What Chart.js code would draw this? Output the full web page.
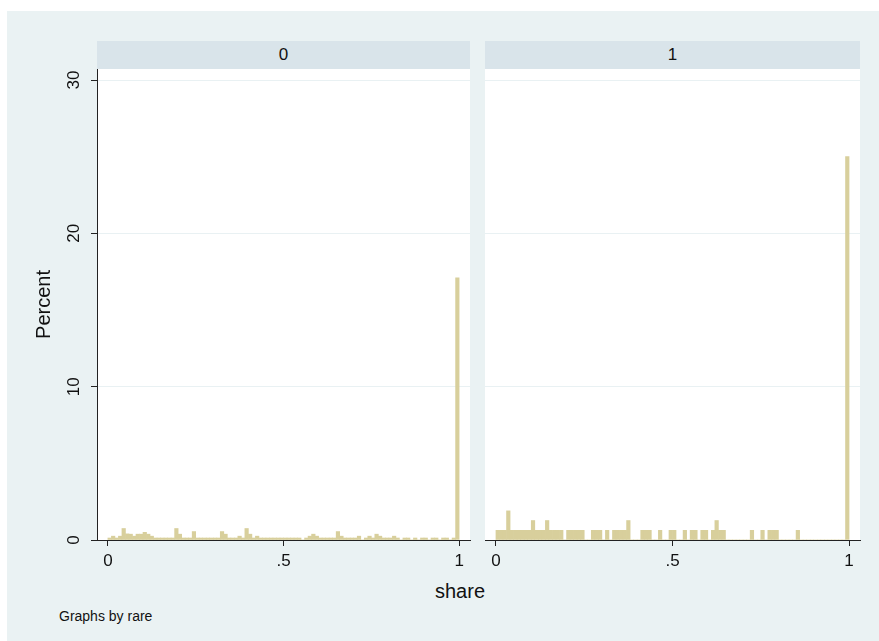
<!DOCTYPE html>
<html>
<head>
<meta charset="utf-8">
<script src="https://cdn.jsdelivr.net/npm/chart.js@4.4.0/dist/chart.umd.min.js"></script>
<style>
  body { margin: 0; background: #fff; font-family: "Liberation Sans", Arial, sans-serif; }
  #bg { position: absolute; left: 7px; top: 11px; width: 872px; height: 630px; background: #eaf2f3; }
  .strip { position: absolute; top: 41px; height: 28px; background: #d9e4ea; color: #111;
           font-size: 17px; text-align: center; line-height: 28px; }
  .cv { position: absolute; }
  #xlab { position: absolute; left: 380px; width: 160px; top: 580px; text-align: center; font-size: 20px; color: #111; }
  #note { position: absolute; left: 59px; top: 608px; font-size: 14px; color: #111; }
</style>
</head>
<body>
<div id="bg"></div>
<div class="strip" style="left:97px;width:373px;">0</div>
<div class="strip" style="left:485px;width:375px;">1</div>
<div class="cv" style="left:0px;top:60px;width:475px;height:520px;"><canvas id="chart0"></canvas></div>
<div class="cv" style="left:480px;top:60px;width:385px;height:520px;"><canvas id="chart1"></canvas></div>
<div id="xlab">share</div>
<div id="note">Graphs by rare</div>
<script>
// histogram of share by rare, bin width .01 starting at 0 (percent per bin)
var binWidth = 0.01;
var groups = ["0", "1"];
var xTicks = [0, 0.5, 1];
var yTicks = [0, 10, 20, 30];

var pct0 = [
  0.13, 0.25, 0.13, 0.25, 0.75, 0.4, 0.38, 0.25, 0.38, 0.38,
  0.5, 0.38, 0.25, 0.13, 0.13, 0.13, 0.13, 0.13, 0.13, 0.75,
  0.38, 0.13, 0.13, 0.13, 0.55, 0.13, 0.13, 0.13, 0.13, 0.13,
  0.13, 0.13, 0.55, 0.38, 0.13, 0.13, 0.13, 0.25, 0.13, 0.75,
  0.38, 0.13, 0.25, 0.13, 0.13, 0.13, 0.13, 0.13, 0.13, 0.13,
  0.13, 0.13, 0.13, 0.13, 0.13, 0, 0.13, 0.25, 0.38, 0.25,
  0.13, 0.13, 0.13, 0.13, 0.13, 0.55, 0.25, 0.13, 0.13, 0.13,
  0.13, 0.25, 0, 0.13, 0.25, 0.13, 0.38, 0.25, 0.13, 0.13,
  0.13, 0.25, 0.13, 0, 0.13, 0.13, 0, 0.13, 0, 0.13,
  0.13, 0, 0.13, 0.13, 0, 0.13, 0.13, 0, 0.13, 17.1
];

var pct1 = [
  0.63, 0.63, 0.63, 1.9, 0.63, 0.63, 0.63, 0.63, 0.63, 0.63,
  1.27, 0.63, 0.63, 0.63, 1.27, 0.63, 0.63, 0.63, 0.63, 0,
  0.63, 0.63, 0.63, 0.63, 0.63, 0, 0, 0.63, 0.63, 0.63,
  0, 0.63, 0, 0.63, 0.63, 0.63, 0.63, 1.27, 0, 0,
  0, 0.63, 0.63, 0.63, 0, 0, 0.63, 0, 0, 0.63,
  0.63, 0, 0, 0.63, 0, 0.63, 0.63, 0, 0.63, 0.63,
  0, 0.63, 1.27, 0.63, 0.63, 0, 0, 0, 0, 0,
  0, 0, 0.63, 0, 0, 0.63, 0, 0.63, 0.63, 0.63,
  0, 0, 0, 0, 0, 0.63, 0, 0, 0, 0,
  0, 0, 0, 0, 0, 0, 0, 0, 0, 25.0
];

var barColor = "#d8cf9c";
var gridColor = "#e9f1f3";
var inkColor = "#222";

function toPoints(vals) {
  return vals.map(function (v, i) { return { x: (i + 0.5) * binWidth, y: v }; });
}

var whiteArea = {
  id: "whiteArea",
  beforeDraw: function (chart) {
    var a = chart.chartArea, ctx = chart.ctx;
    ctx.save();
    ctx.fillStyle = "#fff";
    ctx.fillRect(a.left, a.top, a.right - a.left, a.bottom - a.top);
    ctx.restore();
  }
};

// stata-style y labels, turned to read upward
var yLabels = {
  id: "yLabels",
  afterDraw: function (chart) {
    if (chart.canvas.id !== "chart0") return;
    var ys = chart.scales.y, ctx = chart.ctx;
    ctx.save();
    ctx.fillStyle = "#111";
    ctx.font = "17px 'Liberation Sans'";
    ctx.textAlign = "center";
    ctx.textBaseline = "middle";
    yTicks.forEach(function (v) {
      ctx.save();
      ctx.translate(74, ys.getPixelForValue(v));
      ctx.rotate(-Math.PI / 2);
      ctx.fillText(String(v), 0, 0);
      ctx.restore();
    });
    ctx.restore();
  }
};

function makeChart(id, vals, showY) {
  return new Chart(id, {
    type: "bar",
    data: {
      datasets: [{
        data: toPoints(vals),
        backgroundColor: barColor,
        borderWidth: 0,
        barPercentage: 1,
        categoryPercentage: 1
      }]
    },
    plugins: [whiteArea, yLabels],
    options: {
      responsive: true,
      maintainAspectRatio: false,
      animation: false,
      layout: { autoPadding: false, padding: { top: 9, right: 5, left: showY ? 0 : 5, bottom: 0 } },
      plugins: { legend: { display: false }, tooltip: { enabled: false } },
      scales: {
        x: {
          type: "linear",
          min: -0.031,
          max: 1.031,
          offset: false,
          afterBuildTicks: function (s) { s.ticks = xTicks.map(function (v) { return { value: v }; }); },
          afterFit: function (s) { s.height = 40; },
          grid: { offset: false, drawOnChartArea: false, drawTicks: true, tickLength: 6, tickColor: inkColor },
          border: { display: true, color: inkColor, width: 1 },
          ticks: {
            color: "#111",
            font: { family: "Liberation Sans", size: 17 },
            maxRotation: 0,
            padding: 5,
            callback: function (v) { return v === 0 ? "0" : v === 1 ? "1" : String(v).replace(/^0/, ""); }
          }
        },
        y: {
          min: 0,
          max: 30.72,
          afterBuildTicks: function (s) { s.ticks = yTicks.map(function (v) { return { value: v }; }); },
          afterFit: function (s) { s.width = showY ? 97 : 0; },
          grid: { color: gridColor, drawTicks: showY, tickLength: 6, tickColor: inkColor },
          border: { display: showY, color: inkColor, width: 1 },
          ticks: { display: false },
          title: {
            display: showY,
            text: "Percent",
            color: "#111",
            font: { family: "Liberation Sans", size: 20 },
            padding: { top: 32, bottom: 0 }
          }
        }
      }
    }
  });
}

makeChart("chart0", pct0, true);
makeChart("chart1", pct1, false);
</script>
</body>
</html>
